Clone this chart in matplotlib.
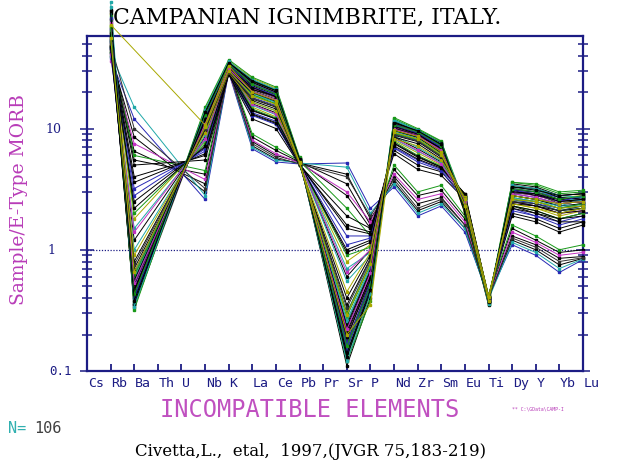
import matplotlib.pyplot as plt
from matplotlib import transforms

# element order along the x axis
elements = ['Cs', 'Rb', 'Ba', 'Th', 'U', 'Nb', 'K', 'La', 'Ce', 'Pb', 'Pr',
            'Sr', 'P', 'Nd', 'Zr', 'Sm', 'Eu', 'Ti', 'Dy', 'Y', 'Yb', 'Lu']
# elements that carry data in the samples below
plotted = ['Rb', 'Ba', 'Nb', 'K', 'La', 'Ce', 'Pb', 'Sr', 'P', 'Nd', 'Zr',
           'Sm', 'Eu', 'Ti', 'Dy', 'Y', 'Yb', 'Lu']

# evolved samples (low Ba / Sr, high Nb / REE)
evolved = [
    [62, 0.34, 12.5, 33, 24, 20, 5.4, 0.13, 0.45, 11.5, 9.6, 7.5, 2.2, 0.37, 3.4, 3.2, 2.8, 2.9],
    [75, 0.38, 13.5, 35, 25, 21, 5.6, 0.15, 0.50, 12.0, 9.8, 7.8, 2.4, 0.38, 3.6, 3.4, 2.9, 3.0],
    [55, 0.42, 11.8, 32, 22, 18.5, 5.3, 0.17, 0.55, 10.5, 9.2, 7.0, 2.3, 0.38, 3.1, 3.0, 2.6, 2.7],
    [88, 0.33, 14.5, 36, 26, 21.5, 5.7, 0.12, 0.42, 11.0, 9.5, 7.2, 2.0, 0.36, 3.3, 3.1, 2.7, 2.8],
    [68, 0.45, 12.0, 31, 21, 18, 5.2, 0.20, 0.60, 10.0, 8.8, 6.8, 2.5, 0.39, 3.0, 2.8, 2.5, 2.6],
    [50, 0.50, 11.2, 30, 20, 17, 5.1, 0.22, 0.65, 9.8, 8.6, 6.5, 2.4, 0.40, 2.9, 2.7, 2.4, 2.5],
    [95, 0.36, 13.0, 34, 23, 19.5, 5.5, 0.14, 0.48, 10.8, 9.4, 7.3, 2.1, 0.37, 3.2, 3.0, 2.6, 2.4],
    [58, 0.55, 10.8, 31, 19, 16.5, 5.3, 0.25, 0.70, 9.5, 8.4, 6.4, 2.6, 0.39, 2.8, 2.6, 2.3, 2.6],
    [72, 0.60, 10.5, 29, 18.5, 16, 5.0, 0.28, 0.75, 9.2, 8.2, 6.2, 2.5, 0.41, 2.7, 2.5, 2.2, 2.3],
    [80, 0.40, 12.8, 33, 22.5, 19, 5.4, 0.16, 0.52, 10.2, 9.0, 6.9, 2.2, 0.38, 3.0, 2.9, 2.6, 2.7],
    [46, 0.65, 10.2, 30, 18, 15.5, 5.2, 0.30, 0.80, 9.0, 8.0, 6.0, 2.6, 0.40, 2.6, 2.4, 2.2, 2.4],
    [65, 0.35, 13.2, 34, 24.5, 20.5, 5.6, 0.11, 0.40, 11.2, 9.7, 7.4, 2.0, 0.35, 3.5, 3.3, 2.8, 2.9],
    [110, 0.37, 14.0, 35, 25.5, 21, 5.5, 0.13, 0.46, 11.8, 9.6, 7.6, 2.3, 0.37, 3.3, 3.1, 2.7, 2.5],
    [52, 0.70, 9.8, 29, 17.5, 15, 5.1, 0.35, 0.85, 8.8, 7.8, 5.8, 2.7, 0.41, 2.5, 2.3, 2.1, 2.2],
    [60, 0.48, 11.5, 32, 21.5, 18, 5.3, 0.19, 0.58, 10.3, 8.9, 6.7, 2.3, 0.39, 3.0, 2.8, 2.5, 2.8],
    [78, 0.44, 12.2, 33, 20.5, 17.5, 5.4, 0.18, 0.62, 9.9, 9.1, 6.6, 2.4, 0.38, 2.9, 2.9, 2.4, 2.5],
    [85, 0.32, 15.0, 37, 26.5, 22, 5.8, 0.12, 0.38, 12.3, 10.0, 7.9, 2.1, 0.36, 3.6, 3.5, 3.0, 3.1],
    [48, 0.80, 9.5, 28, 17, 14.5, 5.0, 0.40, 0.90, 8.5, 7.5, 5.6, 2.6, 0.40, 2.4, 2.3, 2.0, 2.1],
    [70, 0.90, 9.2, 29, 16.5, 14, 5.1, 0.45, 0.95, 8.2, 7.2, 5.5, 2.7, 0.42, 2.4, 2.2, 2.0, 2.2],
    [57, 0.52, 11.0, 31, 20, 17, 5.2, 0.24, 0.68, 9.6, 8.5, 6.3, 2.5, 0.39, 2.8, 2.6, 2.3, 2.4],
    [66, 0.39, 12.6, 34, 23.5, 19.5, 5.5, 0.15, 0.50, 10.9, 9.3, 7.1, 2.2, 0.37, 3.2, 3.0, 2.7, 2.6],
    [90, 0.46, 11.6, 32, 21, 18.5, 5.3, 0.21, 0.60, 10.1, 8.7, 6.9, 2.4, 0.38, 3.1, 2.8, 2.6, 2.7],
    [53, 0.58, 10.6, 30, 19.5, 16.5, 5.2, 0.26, 0.72, 9.4, 8.3, 6.1, 2.5, 0.40, 2.7, 2.5, 2.3, 2.3],
    [64, 0.62, 10.4, 31, 19, 16, 5.1, 0.30, 0.78, 9.1, 8.1, 6.0, 2.6, 0.41, 2.6, 2.5, 2.2, 2.4],
    [58, 0.36, 13.8, 35, 24, 20, 5.5, 0.14, 0.44, 11.4, 9.5, 7.6, 2.1, 0.37, 3.3, 3.2, 2.7, 2.6],
    [82, 0.41, 12.4, 33, 22, 18.8, 5.4, 0.17, 0.54, 10.6, 9.1, 7.0, 2.3, 0.38, 3.1, 2.9, 2.5, 2.8],
    [47, 0.56, 11.1, 30, 19.8, 16.8, 5.2, 0.23, 0.66, 9.7, 8.5, 6.4, 2.5, 0.40, 2.8, 2.6, 2.4, 2.5],
    [100, 0.34, 14.2, 36, 25, 21, 5.6, 0.12, 0.43, 11.6, 9.7, 7.5, 2.2, 0.36, 3.4, 3.2, 2.8, 2.7],
    [61, 0.47, 11.9, 32, 21.8, 18.2, 5.3, 0.19, 0.57, 10.4, 9.0, 6.8, 2.4, 0.39, 3.0, 2.9, 2.5, 2.6],
    [74, 0.53, 10.9, 31, 20.2, 17.2, 5.2, 0.22, 0.64, 9.9, 8.7, 6.6, 2.5, 0.39, 2.9, 2.7, 2.4, 2.5],
    [54, 0.75, 9.9, 29, 17.8, 15.2, 5.1, 0.33, 0.83, 8.9, 7.9, 5.9, 2.6, 0.40, 2.5, 2.4, 2.1, 2.3],
    [69, 0.43, 12.9, 34, 23.2, 19.2, 5.4, 0.16, 0.51, 10.7, 9.4, 7.2, 2.3, 0.38, 3.2, 3.0, 2.6, 2.8],
    [93, 0.38, 13.6, 35, 24.8, 20.6, 5.6, 0.13, 0.47, 11.1, 9.6, 7.4, 2.2, 0.37, 3.3, 3.1, 2.8, 2.9],
    [56, 0.66, 10.3, 30, 18.6, 15.8, 5.2, 0.29, 0.77, 9.3, 8.2, 6.1, 2.6, 0.41, 2.6, 2.5, 2.2, 2.3],
]

# one sample without Ba: its line runs from Rb straight to Nb
no_ba = [72, None, 10.7, 33, 20, 17, 5.3, 0.20, 0.35, 9.7, 8.6, 6.4, 2.3, 0.38, 2.8, 2.6, 2.4, 2.5]

# intermediate samples
intermediate = [
    [45, 1.2, 8.5, 31, 16, 13.5, 5.3, 0.6, 1.00, 8.5, 6.8, 5.3, 2.7, 0.39, 2.5, 2.3, 2.0, 2.2],
    [50, 1.8, 7.8, 30, 15, 12.5, 5.2, 0.8, 1.10, 8.0, 6.3, 5.0, 2.8, 0.40, 2.4, 2.2, 1.9, 2.1],
    [42, 2.5, 7.0, 29, 14, 12, 5.1, 1.0, 1.20, 7.5, 5.8, 4.8, 2.9, 0.41, 2.3, 2.0, 1.8, 2.0],
    [55, 3.2, 6.5, 30, 13.5, 11.5, 5.2, 1.3, 1.30, 7.0, 5.5, 4.6, 2.8, 0.40, 2.2, 1.9, 1.7, 1.9],
    [48, 4.0, 6.0, 28, 13, 11, 5.0, 1.6, 1.40, 6.6, 5.0, 4.4, 2.7, 0.42, 2.0, 1.8, 1.5, 1.7],
    [40, 1.5, 8.0, 30, 15.5, 13, 5.3, 0.7, 0.95, 8.2, 6.5, 5.2, 2.6, 0.39, 2.6, 2.4, 2.1, 2.3],
    [60, 2.0, 7.5, 31, 14.5, 12.2, 5.2, 0.9, 1.05, 7.8, 6.0, 4.9, 2.75, 0.40, 2.3, 2.1, 1.8, 2.0],
    [46, 5.0, 5.5, 28, 12, 10, 5.0, 1.9, 1.50, 6.2, 4.6, 4.1, 2.6, 0.41, 1.9, 1.7, 1.4, 1.6],
    [52, 2.8, 6.8, 29, 12.8, 10.8, 5.1, 1.1, 1.25, 6.9, 5.3, 4.5, 2.5, 0.40, 2.1, 1.9, 1.6, 1.8],
    [44, 3.6, 6.2, 29, 13.2, 11.2, 5.1, 1.5, 1.35, 7.2, 5.6, 4.7, 2.9, 0.41, 2.2, 2.0, 1.7, 1.7],
    [47, 1.0, 8.8, 31, 16.5, 14, 5.3, 0.55, 0.90, 8.7, 7.0, 5.4, 2.7, 0.39, 2.5, 2.4, 2.1, 2.2],
    [53, 2.2, 7.2, 30, 14.2, 12, 5.2, 0.95, 1.15, 7.6, 5.9, 4.8, 2.8, 0.40, 2.3, 2.1, 1.8, 1.9],
    [41, 1.4, 8.2, 30, 15.8, 13.2, 5.2, 0.65, 1.00, 8.3, 6.6, 5.1, 2.6, 0.39, 2.5, 2.3, 2.0, 2.1],
]

# least evolved samples (high Ba / Sr, low Nb / HREE)
primitive = [
    [40, 8.5, 3.0, 30, 7.2, 5.6, 5.2, 4.2, 1.8, 3.6, 2.1, 2.5, 1.5, 0.40, 1.20, 1.00, 0.75, 0.85],
    [38, 12.0, 2.6, 29, 6.8, 5.3, 5.1, 5.2, 2.2, 3.3, 1.9, 2.3, 1.4, 0.41, 1.10, 0.90, 0.65, 0.83],
    [45, 6.5, 3.5, 31, 7.8, 6.0, 5.3, 3.5, 1.6, 4.0, 2.4, 2.7, 1.6, 0.40, 1.30, 1.10, 0.85, 0.88],
    [42, 15.0, 2.8, 30, 7.0, 5.5, 5.2, 4.8, 2.0, 3.5, 2.0, 2.4, 1.5, 0.39, 1.15, 0.95, 0.70, 0.84],
    [48, 5.5, 4.2, 31, 8.5, 6.6, 5.3, 2.8, 1.5, 4.6, 2.8, 3.1, 1.8, 0.41, 1.50, 1.20, 0.95, 1.00],
    [36, 7.5, 3.8, 29, 8.0, 6.2, 5.2, 3.0, 1.7, 4.2, 2.6, 2.9, 1.7, 0.40, 1.40, 1.15, 0.90, 0.95],
    [50, 10.0, 3.2, 30, 7.5, 5.8, 5.1, 4.0, 1.9, 3.8, 2.2, 2.6, 1.6, 0.40, 1.25, 1.05, 0.80, 0.86],
    [43, 6.0, 4.5, 32, 9.0, 7.0, 5.4, 2.2, 1.3, 5.0, 3.0, 3.4, 1.9, 0.42, 1.60, 1.30, 1.00, 1.10],
]

samples = primitive + intermediate + evolved

navy = '#1c1c84'
magenta = '#b83cb8'
olive = '#a8a800'
palette = ['#000000', '#2828b4', '#000000', '#20a8a8', '#000000',
           '#c030c0', '#303030', '#189818', '#000000', olive,
           '#000000', '#2828b4', '#000000', '#20a8a8', '#189818']

fig = plt.figure(figsize=(6.2, 4.64), dpi=100)
ax = fig.add_axes([87 / 620, 92 / 464, 496 / 620, 335 / 464])

pos = {e: i for i, e in enumerate(elements)}
for n, row in enumerate(samples + [no_ba]):
    xs = [pos[e] for e, v in zip(plotted, row) if v is not None]
    ys = [v for v in row if v is not None]
    c = olive if row is no_ba else palette[n % len(palette)]
    ax.plot(xs, ys, '-s', color=c, lw=0.7, ms=1.8, mec=c, clip_on=False, zorder=3)

ax.axhline(1, color=navy, lw=0.9, ls=(0, (1, 1.3)), zorder=2)

ax.set_yscale('log')
ax.set_ylim(0.1, 58)
ax.set_xlim(0, 21)

for s in ax.spines.values():
    s.set_color(navy)
    s.set_linewidth(1.6)

ax.set_xticks(range(len(elements)))
ax.tick_params(axis='x', direction='in', length=5, width=1.3, colors=navy,
               labelbottom=False, top=False)
ax.yaxis.set_ticks_position('both')
ax.tick_params(axis='y', which='both', direction='inout', colors=navy,
               labelleft=False, labelright=False, width=1.1)
ax.tick_params(axis='y', which='major', length=10)
ax.tick_params(axis='y', which='minor', length=7)

# element labels, left aligned on the ticks
xlab = transforms.blended_transform_factory(ax.transData, fig.transFigure)
for i, e in enumerate(elements):
    ax.text(i + 0.03, 80 / 464, e, transform=xlab, ha='left', va='center',
            family='DejaVu Sans Mono', fontsize=9.5, color=navy)

# y tick labels
ylab = transforms.blended_transform_factory(fig.transFigure, ax.transData)
ax.text(45 / 620, 10, '10', transform=ylab, ha='left', va='center',
        family='DejaVu Serif', fontsize=9, color=navy)
ax.text(47 / 620, 1, '1', transform=ylab, ha='left', va='center',
        family='DejaVu Serif', fontsize=9, color=navy)
ax.text(49 / 620, 0.1, '0.1', transform=ylab, ha='left', va='center',
        family='DejaVu Sans Mono', fontsize=9, color=navy)

fig.text(19 / 620, 1 - 200 / 464, 'Sample/E-Type MORB', rotation=90,
         ha='center', va='center', family='DejaVu Serif', fontsize=13.5,
         color=magenta)
fig.text(113 / 620, 1 - 17 / 464, 'CAMPANIAN IGNIMBRITE, ITALY.', ha='left',
         va='center', family='DejaVu Serif', fontsize=15.8, color='black')
fig.text(160 / 620, 1 - 410 / 464, 'INCOMPATIBLE ELEMENTS', ha='left',
         va='center', family='DejaVu Sans Mono', fontsize=17,
         color='#c050c0')
fig.text(512 / 620, 1 - 409 / 464, '** C:\\GData\\CAMP-I', ha='left',
         va='center', family='DejaVu Sans Mono', fontsize=3.5, color=magenta)
fig.text(8 / 620, 1 - 429 / 464, 'N=', ha='left', va='center',
         family='DejaVu Sans Mono', fontsize=11, color='#30b0b0')
fig.text(34 / 620, 1 - 429 / 464, '106', ha='left', va='center',
         family='DejaVu Sans Mono', fontsize=11, color='#404040')
fig.text(135 / 620, 1 - 452 / 464, 'Civetta,L.,  etal,  1997,(JVGR 75,183-219)',
         ha='left', va='center', family='DejaVu Serif', fontsize=12,
         color='black')

fig.savefig('out.png', dpi=100)
